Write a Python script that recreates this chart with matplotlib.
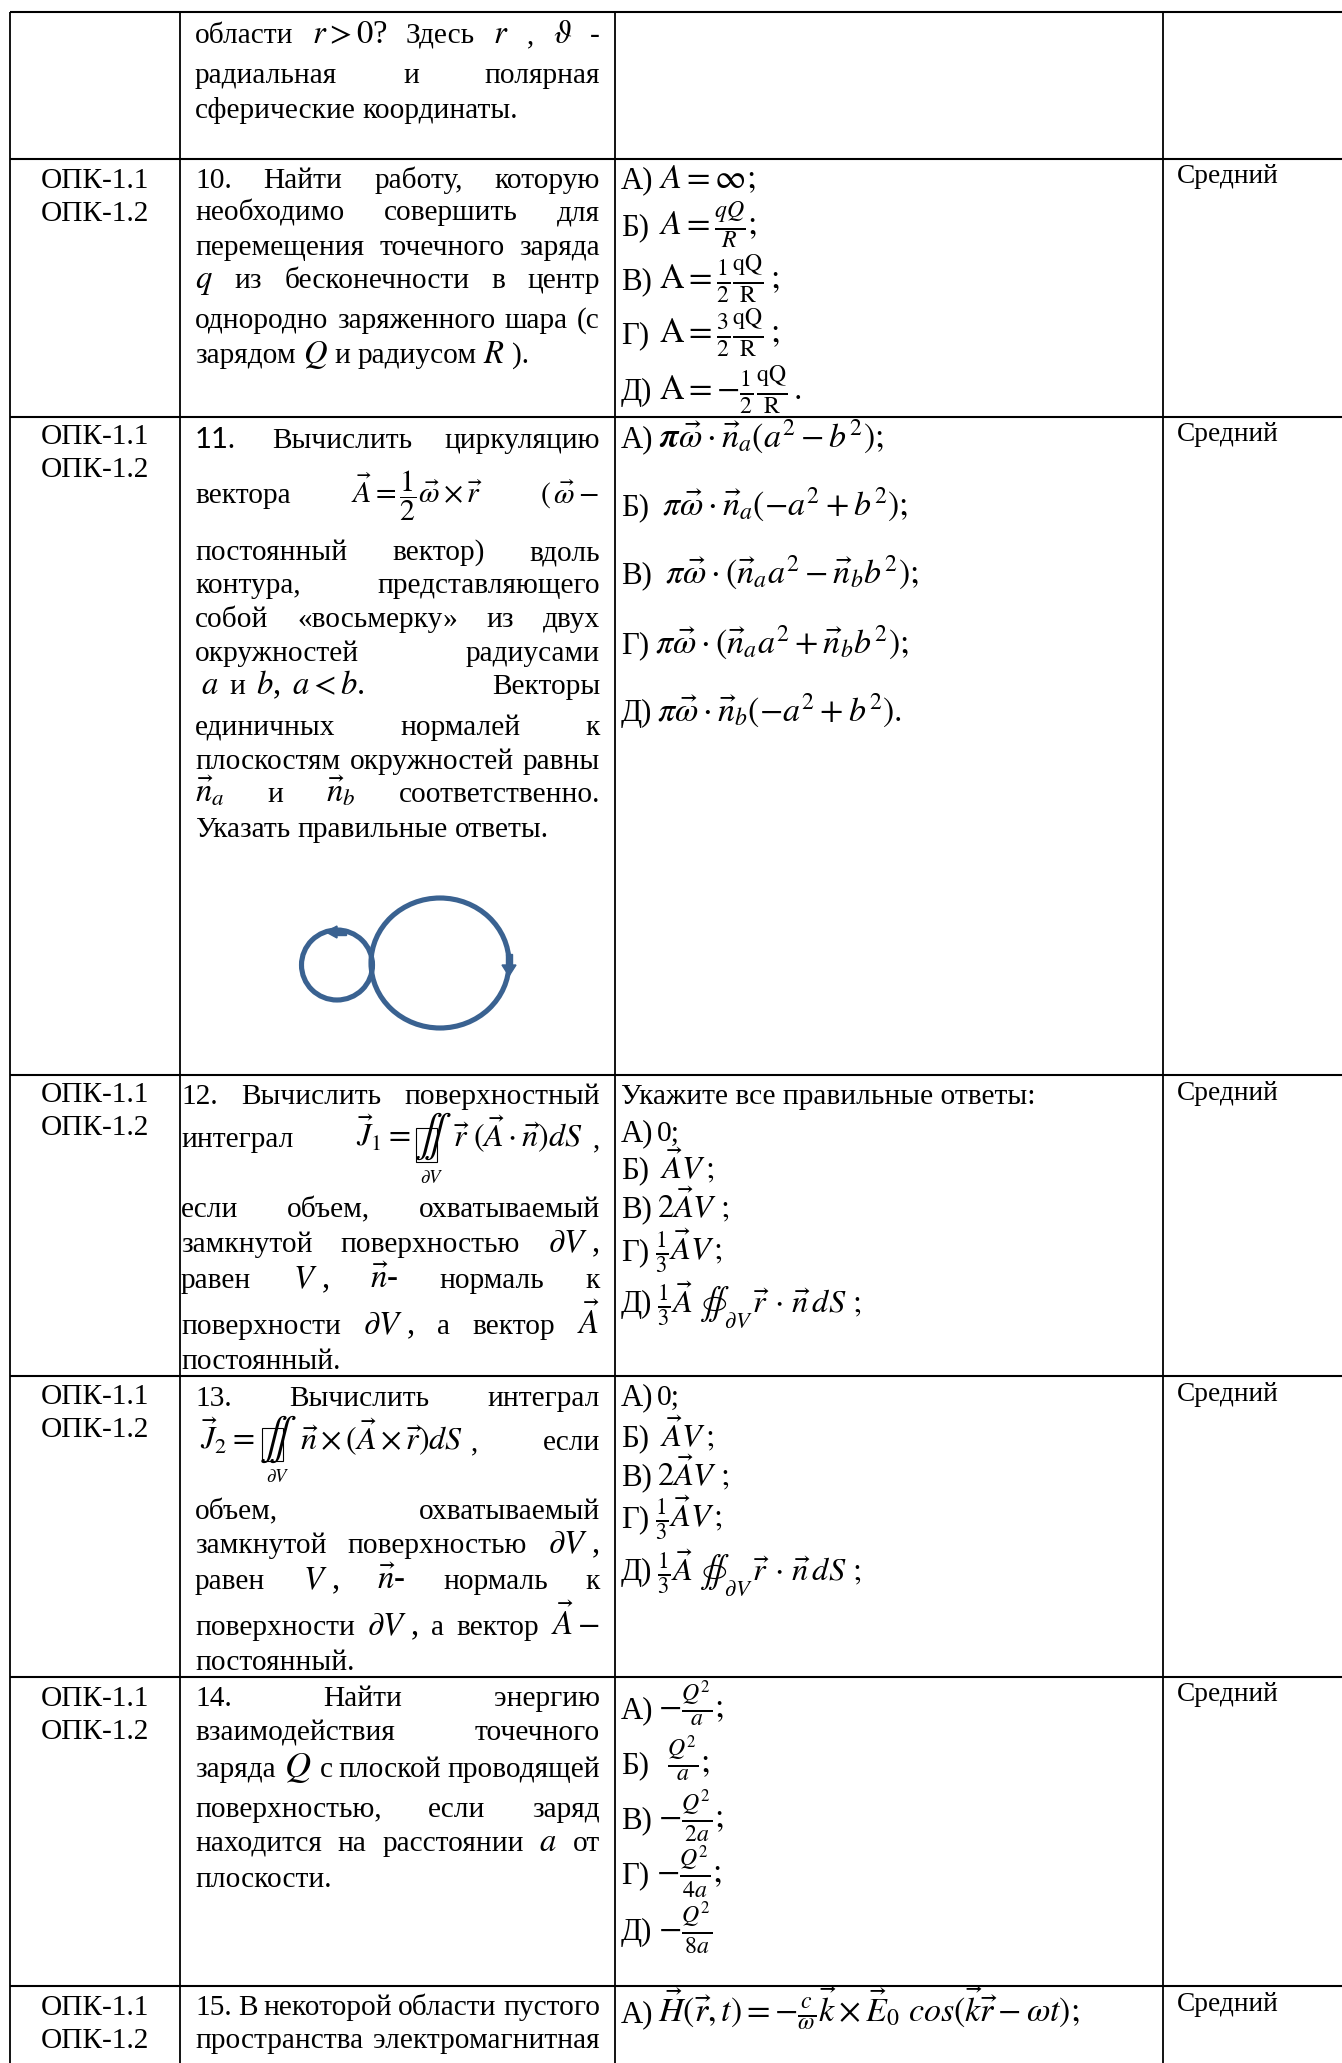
import matplotlib
matplotlib.use("Agg")
import matplotlib.pyplot as plt
from matplotlib.patches import Ellipse, Rectangle, Polygon
from matplotlib.transforms import Bbox, TransformedBbox

plt.rcParams['font.family'] = ['Liberation Serif', 'DejaVu Serif']
plt.rcParams['mathtext.fontset'] = 'stix'

W, H = 1342, 2063
FS = 21.2
FS_LABEL = 22.2
FS_MATH = 23.5
FS_ANS = 24.5
FS_ANS_SMALL = 23.3

# table text
CODES = ["ОПК-1.1", "ОПК-1.2"]
LEVEL = "Средний"

TEXT_9 = [
    ["области", "$r>0$?", "Здесь", "$r$", ",", r"$\vartheta$", "-"],
    ["радиальная", "и", "полярная"],
    ["сферические", "координаты."],
]
TEXT_10 = [
    ["10.", "Найти", "работу,", "которую"],
    ["необходимо", "совершить", "для"],
    ["перемещения", "точечного", "заряда"],
    ["$q$", "из", "бесконечности", "в", "центр"],
    ["однородно", "заряженного", "шара", "(с"],
    ["зарядом", "$Q$", "и", "радиусом", "$R$", ")."],
]
TEXT_11 = [
    ["11.", "Вычислить", "циркуляцию"],
    ["вектора", r"$\vec{A}=\dfrac{1}{2}\vec{\omega}\times\vec{r}$", r"$(\,\vec{\omega}-$"],
    ["постоянный", "вектор)", "вдоль"],
    ["контура,", "представляющего"],
    ["собой", "«восьмерку»", "из", "двух"],
    ["окружностей", "радиусами"],
    ["$a$", "и", "$b$,", "$a<b$.", "Векторы"],
    ["единичных", "нормалей", "к"],
    ["плоскостям", "окружностей", "равны"],
    [r"$\vec{n}_a$", "и", r"$\vec{n}_b$", "соответственно."],
    ["Указать", "правильные", "ответы."],
]
TEXT_12 = [
    ["12.", "Вычислить", "поверхностный"],
    ["интеграл"],
    ["если", "объем,", "охватываемый"],
    ["замкнутой", "поверхностью", r"$\partial V$ ,"],
    ["равен", "$V$ ,", r"$\vec{n}$-", "нормаль", "к"],
    ["поверхности", r"$\partial V$ ,", "а", "вектор", r"$\vec{A}$"],
    ["постоянный."],
]
TEXT_13 = [
    ["13.", "Вычислить", "интеграл"],
    ["если"],
    ["объем,", "охватываемый"],
    ["замкнутой", "поверхностью", r"$\partial V$ ,"],
    ["равен", "$V$ ,", r"$\vec{n}$-", "нормаль", "к"],
    ["поверхности", r"$\partial V$ ,", "а", "вектор", r"$\vec{A}-$"],
    ["постоянный."],
]
TEXT_14 = [
    ["14.", "Найти", "энергию"],
    ["взаимодействия", "точечного"],
    ["заряда", r"$Q$", "с", "плоской", "проводящей"],
    ["поверхностью,", "если", "заряд"],
    ["находится", "на", "расстоянии", "$a$", "от"],
    ["плоскости."],
]
TEXT_15 = [
    ["15.", "В", "некоторой", "области", "пустого"],
    ["пространства", "электромагнитная"],
]

LABELS = ["А)", "Б)", "В)", "Г)", "Д)"]
ANS_10 = [
    r"$A=\infty;$",
    r"$A=\frac{qQ}{R};$",
    r"$\mathrm{A}=\frac{1}{2}\frac{\mathrm{qQ}}{\mathrm{R}}\,;$",
    r"$\mathrm{A}=\frac{3}{2}\frac{\mathrm{qQ}}{\mathrm{R}}\,;$",
    r"$\mathrm{A}=-\frac{1}{2}\frac{\mathrm{qQ}}{\mathrm{R}}\,.$",
]
ANS_11 = [
    r"$\boldsymbol{\pi}\vec{\omega}\cdot\vec{n}_a(a^2-b^2);$",
    r"$\pi\vec{\omega}\cdot\vec{n}_a(-a^2+b^2);$",
    r"$\pi\vec{\omega}\cdot(\vec{n}_a a^2-\vec{n}_b b^2);$",
    r"$\pi\vec{\omega}\cdot(\vec{n}_a a^2+\vec{n}_b b^2);$",
    r"$\pi\vec{\omega}\cdot\vec{n}_b(-a^2+b^2).$",
]
ANS_12_HEAD = "Укажите все правильные ответы:"
ANS_12 = [
    "0;",
    r"$\vec{A}V\,;$",
    r"$2\vec{A}V\ ;$",
    r"$\frac{1}{3}\vec{A}V\,;$",
    r"$\frac{1}{3}\vec{A}\ \oiint_{\partial V}\,\vec{r}\,\cdot\,\vec{n}\,dS\ ;$",
]
ANS_14 = [
    r"$-\frac{Q^2}{a};$",
    r"$\frac{Q^2}{a};$",
    r"$-\frac{Q^2}{2a};$",
    r"$-\frac{Q^2}{4a};$",
    r"$-\frac{Q^2}{8a}$",
]
ANS_15 = r"$\vec{H}(\vec{r},t)=-\frac{c}{\omega}\vec{k}\times\vec{E}_0\ cos(\vec{k}\vec{r}-\omega t);$"

FORMULA_12 = [r"$\vec{J}_1=$", r"$\vec{r}\ (\vec{A}\cdot\vec{n})dS$", ","]
FORMULA_13 = [r"$\vec{J}_2=$", r"$\vec{n}\times(\vec{A}\times\vec{r})dS$", ","]

# layout, in pixels of the page
H_LINES = [12, 159, 417, 1075, 1376, 1677, 1986]
V_LINES = [10, 180, 615, 1163]
X_TEXT = 195
X_TEXT_12 = 181
X_RIGHT = 600
X_ANS = 621

Y_9 = [43, 83, 118]
Y_10 = [188, 220, 255, 288, 328, 363]
Y_11 = [448, 503, 560, 593, 627, 661, 694, 735, 769, 802, 837]
Y_12 = [1104, 1147, 1217, 1252, 1288, 1334, 1369]
Y_13 = [1406, 1450, 1519, 1553, 1589, 1635, 1670]
Y_14 = [1706, 1740, 1777, 1817, 1851, 1887]
Y_15 = [2015, 2048]

YA_10 = [188, 235, 289, 343, 400]
YA_11 = [447, 515, 583, 653, 721]
YA_12 = [1141, 1178, 1217, 1260, 1312]
YA_13 = [1405, 1446, 1485, 1527, 1580]
YA_14 = [1718, 1773, 1828, 1883, 1940]
YA_15 = 2022

XA_10 = [659, 659, 659, 659, 659]
XA_11 = [659, 662, 665, 655, 657]
XA_12 = [657, 660, 657, 655, 657]
XA_14 = [658, 667, 658, 656, 658]

# rows that have the code and level columns: baseline of first line
Y_CODE = [188, 444, 1102, 1404, 1706, 2015]
Y_LEVEL = [183, 441, 1100, 1401, 1701, 2011]

fig = plt.figure(figsize=(W / 100, H / 100), dpi=100)
ax = fig.add_axes([0, 0, 1, 1])
ax.set_xlim(0, W)
ax.set_ylim(H, 0)
ax.axis("off")
renderer = fig.canvas.get_renderer()


def put(s, x, y, fs=FS, **kw):
    return ax.text(x, y, s, fontsize=fs, va="baseline", ha=kw.pop("ha", "left"), color="black", **kw)


def line(pieces, y, x0, x1=None, gap=7.0):
    """Draw pieces on one baseline. With x1 the gaps are stretched to fill x0..x1."""
    texts = []
    for p in pieces:
        texts.append(put(p, 0, y, FS_MATH if p.startswith("$") else FS))
    widths = [t.get_window_extent(renderer).width for t in texts]
    if x1 is not None and len(pieces) > 1:
        gap = (x1 - x0 - sum(widths)) / (len(pieces) - 1)
    x = x0
    for t, w in zip(texts, widths):
        t.set_x(x)
        x += w + gap


def paragraph(lines, ys, x0=X_TEXT, x1=X_RIGHT, free=()):
    for i, (pieces, y) in enumerate(zip(lines, ys)):
        line(pieces, y, x0, None if i in free else x1)


def answers(formulas, ys, xs, x0=X_ANS, fs=FS_ANS):
    for lab, f, y, x in zip(LABELS, formulas, ys, xs):
        put(lab, x0, y, FS_LABEL)
        put(f, x, y, fs if f.startswith("$") else FS)


def surface_integral(x, y, x_box, y_top, y_bot):
    # the broken double integral sign of the source: box + two long signs + dV
    ax.add_patch(Rectangle((x_box, y_top), 21, y_bot - y_top, fill=False, ec="black", lw=0.8))
    put(r"$\int$", x, y, fs=30)
    put(r"$\int$", x + 9, y, fs=30)
    put(r"$\partial V$", x_box + 4, y_bot + 21, fs=13.5)


for yy in H_LINES:
    ax.plot([V_LINES[0], W], [yy, yy], color="black", lw=1.5, solid_capstyle="butt")
for xx in V_LINES:
    ax.plot([xx, xx], [H_LINES[0], H], color="black", lw=1.3, solid_capstyle="butt")

# code + level columns
for y in Y_CODE:
    put(CODES[0], 95, y, ha="center")
    put(CODES[1], 95, y + 33, ha="center")
for y in Y_LEVEL:
    put(LEVEL, 1177, y, fs=19.7)

# question column
paragraph(TEXT_9, Y_9, free=(2,))
paragraph(TEXT_10, Y_10, free=(5,))
ax.text(X_TEXT, Y_11[0], TEXT_11[0][0], fontsize=FS, va="baseline", family="Lato")
line(TEXT_11[0][1:], Y_11[0], 272, X_RIGHT)
put(TEXT_11[1][0], X_TEXT, Y_11[1])
put(TEXT_11[1][1], 351, Y_11[1], 21.5)
put(TEXT_11[1][2], 540, Y_11[1], 21.5)
paragraph(TEXT_11[2:6], Y_11[2:6])
line(TEXT_11[6][:4], Y_11[6], 201, gap=11)
put(TEXT_11[6][4], X_RIGHT, Y_11[6], ha="right")
paragraph(TEXT_11[7:], Y_11[7:], free=(3,))

paragraph(TEXT_12[:1], Y_12[:1], x0=X_TEXT_12)
line(TEXT_12[1], Y_12[1], X_TEXT_12)
put(FORMULA_12[0], 356, Y_12[1], fs=23)
surface_integral(414, Y_12[1], 416, 1128, 1162)
put(FORMULA_12[1], 453, Y_12[1], fs=23)
put(FORMULA_12[2], 593, Y_12[1])
paragraph(TEXT_12[2:], Y_12[2:], x0=X_TEXT_12, x1=X_RIGHT, free=(4,))

paragraph(TEXT_13[:1], Y_13[:1])
put(FORMULA_13[0], 200, Y_13[1], fs=23)
surface_integral(259, Y_13[1], 262, 1428, 1461)
put(FORMULA_13[1], 300, Y_13[1], fs=23)
put(FORMULA_13[2], 471, Y_13[1])
put(TEXT_13[1][0], X_RIGHT, Y_13[1], ha="right")
paragraph(TEXT_13[2:], Y_13[2:], free=(4,))

paragraph(TEXT_14[:2], Y_14[:2])
line(TEXT_14[2][:1], Y_14[2], X_TEXT)
put(TEXT_14[2][1], 284, Y_14[2], fs=26)
line(TEXT_14[2][2:], Y_14[2], 320, X_RIGHT)
paragraph(TEXT_14[3:], Y_14[3:], free=(2,))
paragraph(TEXT_15, Y_15)

# answer column
row10_clip = TransformedBbox(Bbox([[V_LINES[2], H_LINES[1]], [V_LINES[3], H_LINES[2]]]), ax.transData)
answers(ANS_10, YA_10, XA_10)
for t in ax.texts[-10:]:
    t.set_clip_box(row10_clip)
    t.set_clip_on(True)
answers(ANS_11, YA_11, XA_11)
put(ANS_12_HEAD, X_ANS, Y_12[0])
answers(ANS_12, YA_12, XA_12, fs=FS_ANS_SMALL)
answers(ANS_12, YA_13, XA_12, fs=FS_ANS_SMALL)
answers(ANS_14, YA_14, XA_14)
put(LABELS[0], X_ANS, YA_15, FS_LABEL)
put(ANS_15, 658, YA_15, FS_ANS)

# figure eight contour
BLUE = "#3A6291"
ax.add_patch(Ellipse((337, 965), 71, 70, fill=False, ec=BLUE, lw=3.7))
ax.add_patch(Ellipse((440, 963), 138, 130, fill=False, ec=BLUE, lw=3.7))
ax.add_patch(Polygon([(326, 932), (337, 926), (337, 938)], color=BLUE))
ax.add_patch(Rectangle((336, 929), 10, 6, color=BLUE))
ax.add_patch(Polygon([(502, 965), (516, 965), (509, 976)], color=BLUE))
ax.add_patch(Rectangle((506, 954), 6, 12, color=BLUE))

fig.savefig("out.png", dpi=100, facecolor="white")
